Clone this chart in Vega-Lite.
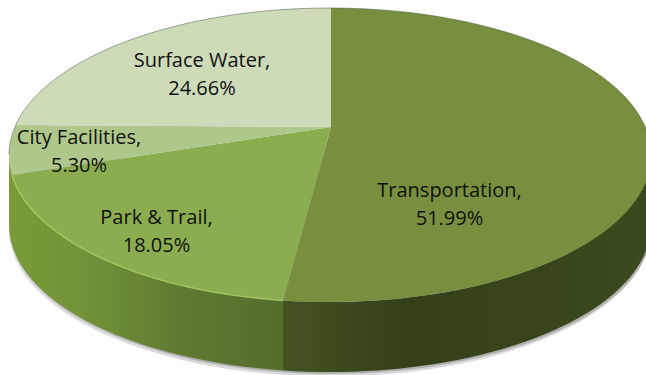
{"$schema":"https://vega.github.io/schema/vega-lite/v6.json","width":646,"height":375,"padding":0,"autosize":{"type":"none"},"background":"#ffffff","view":{"stroke":null},
"data":{"values":[
{"category":"Transportation","share":51.99,"label":"Transportation,\n51.99%"},
{"category":"Park & Trail","share":18.05,"label":"Park & Trail,\n18.05%"},
{"category":"City Facilities","share":5.30,"label":"City Facilities,\n5.30%"},
{"category":"Surface Water","share":24.66,"label":"Surface Water,\n24.66%"}]},
"layer":[
{"transform":[{"filter":"datum.category==='Transportation'"}],"mark":{"type":"point","filled":true,"opacity":0.18,"size":4,"stroke":null,"fill":"#333333","shape":"M-314,-28 L-314,42 A321,147 0 0 0 328,42 L328,-28 Z"},"encoding":{}},
{"transform":[{"filter":"datum.category==='Transportation'"}],"mark":{"type":"point","filled":true,"opacity":0.25,"size":4,"stroke":null,"fill":"#333333","shape":"M-313,-30 L-313,39.5 A321,147 0 0 0 329,39.5 L329,-30 Z"},"encoding":{}},
{"transform":[{"filter":"datum.category==='Park & Trail'"}],"mark":{"type":"point","filled":true,"opacity":1,"size":4,"stroke":null,"shape":"M-314,-32.5 A321,147 0 0 0 -40,112.9 L-40,182.9 A321,147 0 0 1 -314,37.5 Z","fill":{"gradient":"linear","x1":0,"x2":1,"y1":0,"y2":0,"stops":[{"offset":0,"color":"#7a9a38"},{"offset":0.25,"color":"#749339"},{"offset":0.65,"color":"#5f7831"},{"offset":1,"color":"#556d2b"}]}},"encoding":{"tooltip":{"field":"share","type":"quantitative"}}},
{"transform":[{"filter":"datum.category==='Transportation'"}],"mark":{"type":"point","filled":true,"opacity":1,"size":4,"stroke":null,"shape":"M-40,112.9 A321,147 0 0 0 328,-32.5 L328,37.5 A321,147 0 0 1 -40,182.9 Z","fill":{"gradient":"linear","x1":0,"x2":1,"y1":0,"y2":0,"stops":[{"offset":0,"color":"#445322"},{"offset":0.35,"color":"#333f19"},{"offset":1,"color":"#3b4a1e"}]}},"encoding":{"tooltip":{"field":"share","type":"quantitative"}}},
{"transform":[{"filter":"datum.category==='Transportation'"}],"mark":{"type":"point","filled":true,"opacity":1,"size":4,"stroke":null,"fill":"#788f3f","shape":"M8,-60.5 L8,-179.5 A321,147 0 1 1 -40,112.9 Z"},"encoding":{"tooltip":{"field":"share","type":"quantitative"}}},
{"transform":[{"filter":"datum.category==='Park & Trail'"}],"mark":{"type":"point","filled":true,"opacity":1,"size":4,"stroke":null,"fill":"#8cac50","shape":"M8,-60.5 L-40,112.9 A321,147 0 0 1 -311,-12.5 Z"},"encoding":{"tooltip":{"field":"share","type":"quantitative"}}},
{"transform":[{"filter":"datum.category==='City Facilities'"}],"mark":{"type":"point","filled":true,"opacity":1,"size":4,"stroke":null,"fill":"#afc78b","shape":"M8,-60.5 L-311,-12.5 A321,147 0 0 1 -307,-62.5 Z"},"encoding":{"tooltip":{"field":"share","type":"quantitative"}}},
{"transform":[{"filter":"datum.category==='Surface Water'"}],"mark":{"type":"point","filled":true,"opacity":1,"size":4,"stroke":null,"fill":"#cedbb9","shape":"M8,-60.5 L-307,-62.5 A321,147 0 0 1 8,-179.5 Z"},"encoding":{"tooltip":{"field":"share","type":"quantitative"}}},
{"transform":[{"filter":"datum.category==='Park & Trail'"}],"mark":{"type":"point","filled":false,"fill":null,"opacity":0.9,"size":4,"stroke":"#a9c962","strokeWidth":1.5,"shape":"M-311,-12.5 A321,147 0 0 0 -40,112.9"},"encoding":{}},
{"transform":[{"filter":"datum.category==='Surface Water'"}],"mark":{"type":"point","filled":false,"fill":null,"opacity":0.6,"size":4,"stroke":"#5f6a55","strokeWidth":1,"shape":"M-314,-32.5 A321,147 0 0 1 328,-32.5"},"encoding":{}},
{"transform":[{"filter":"datum.category==='Transportation'"}],"mark":{"type":"text","font":"Open Sans","fontSize":20,"color":"#111111","lineBreak":"\n","lineHeight":28,"align":"center","baseline":"middle","dx":126.5,"dy":3.5},"encoding":{"text":{"field":"label"}}},
{"transform":[{"filter":"datum.category==='Park & Trail'"}],"mark":{"type":"text","font":"Open Sans","fontSize":20,"color":"#111111","lineBreak":"\n","lineHeight":28,"align":"center","baseline":"middle","dx":-166.5,"dy":30.5},"encoding":{"text":{"field":"label"}}},
{"transform":[{"filter":"datum.category==='City Facilities'"}],"mark":{"type":"text","font":"Open Sans","fontSize":20,"color":"#111111","lineBreak":"\n","lineHeight":28,"align":"center","baseline":"middle","dx":-244,"dy":-50},"encoding":{"text":{"field":"label"}}},
{"transform":[{"filter":"datum.category==='Surface Water'"}],"mark":{"type":"text","font":"Open Sans","fontSize":20,"color":"#111111","lineBreak":"\n","lineHeight":28,"align":"center","baseline":"middle","dx":-121,"dy":-126.5},"encoding":{"text":{"field":"label"}}}
]}
